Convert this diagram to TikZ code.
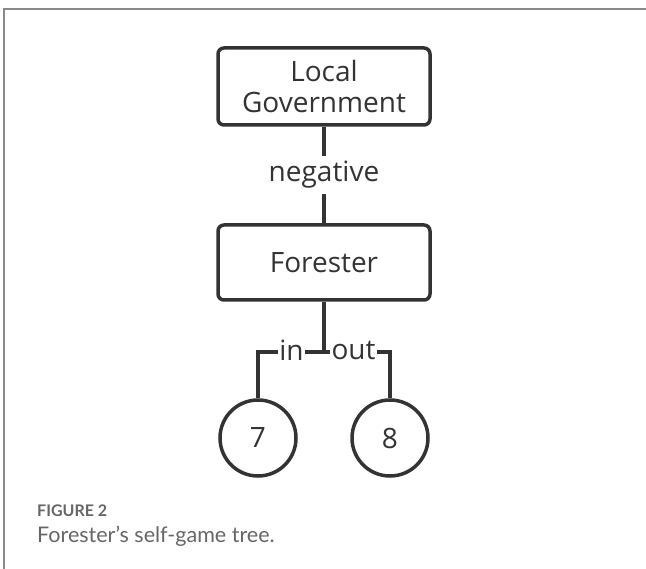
\documentclass[tikz,border=0pt]{standalone}
\usepackage{fontspec}
\setmainfont{Open Sans}
\newfontfamily\capfont{Lato}
\definecolor{ink}{HTML}{333333}
\definecolor{framec}{HTML}{8A8A8A}
\definecolor{capgrey}{HTML}{666666}
\begin{document}
\begin{tikzpicture}[x=1pt,y=-1pt,
  box/.style={draw=ink, line width=3.5pt, rounded corners=6pt, minimum width=212pt, align=center, text=ink, font=\fontsize{28}{31}\selectfont},
  lbl/.style={inner sep=1.5pt, text=ink, font=\fontsize{28}{31}\selectfont},
  leaf/.style={draw=ink, line width=3.5pt, circle, minimum size=76pt, inner sep=0pt, text=ink, font=\fontsize{28}{31}\selectfont},
  conn/.style={draw=ink, line width=3.5pt}]
\useasboundingbox (0,0) rectangle (646,569);
\draw[framec, line width=1.5pt] (4,569) -- (4,9) -- (646,9);
\node[box, minimum height=77pt] (lg) at (324,86.5) {Local\\Government};
\node[lbl, inner ysep=5pt] (neg) at (324,175) {negative};
\node[box, minimum height=75pt] (f) at (324,262.5) {Forester};
\coordinate (j) at (324,352);
\node[lbl] (in) at (291.5,350) {in};
\node[lbl] (out) at (353.5,350) {out};
\node[leaf] (c7) at (258,438) {7};
\node[leaf] (c8) at (390,438) {8};
\draw[conn] (lg) -- (neg);
\draw[conn] (neg) -- (f);
\draw[conn] (f.south) -- (j);
\draw[conn] (in.east |- j) -- (out.west |- j);
\draw[conn] (in.west |- j) -| (c7.north);
\draw[conn] (out.east |- j) -| (c8.north);
\node[anchor=base west, inner sep=0pt, text=capgrey, font=\capfont\bfseries\fontsize{16}{18}\selectfont] (fig) at (37,517) {FIGURE 2};
\node[anchor=base west, inner sep=0pt, text=capgrey, font=\capfont\fontsize{21.5}{24}\selectfont] (cap) at (37,543) {Forester’s self-game tree.};
\end{tikzpicture}
\end{document}
